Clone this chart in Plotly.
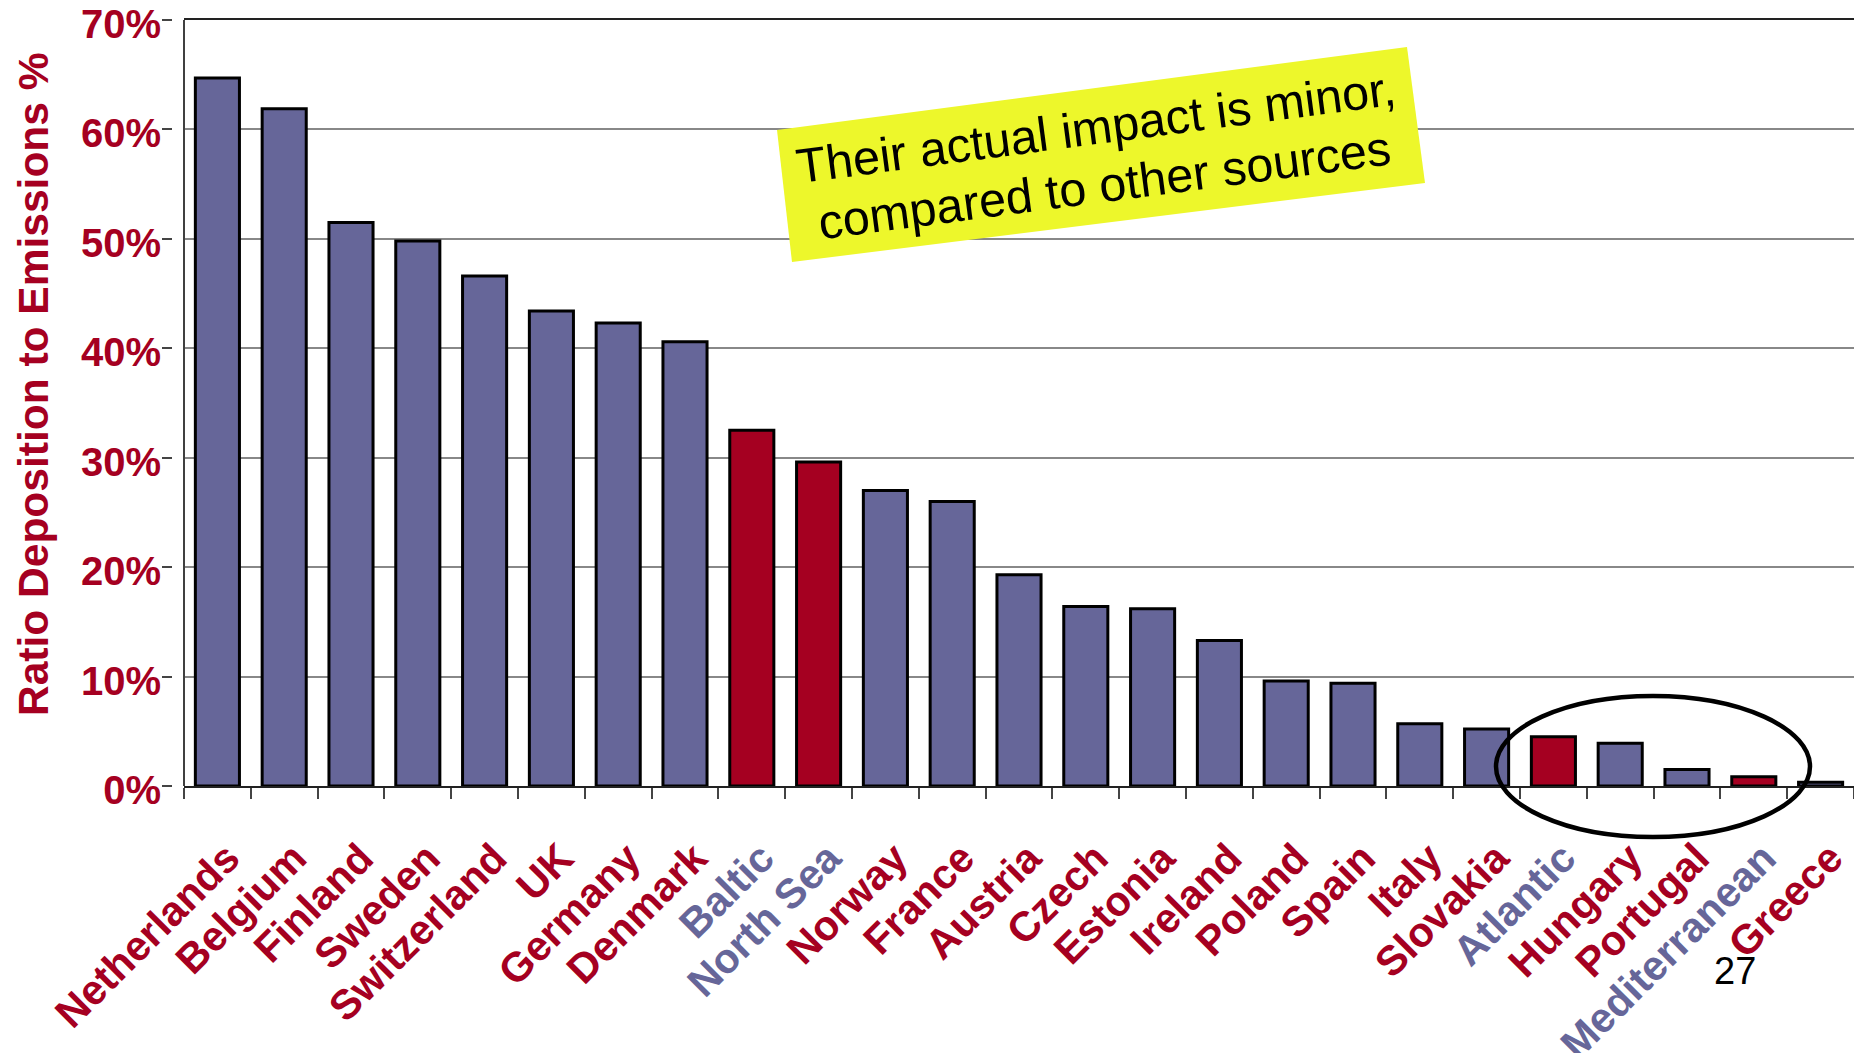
import plotly.graph_objects as go

# Deposition-to-emission ratio per country / sea area (percent)
categories = ["Netherlands", "Belgium", "Finland", "Sweden", "Switzerland", "UK",
              "Germany", "Denmark", "Baltic", "North Sea", "Norway", "France",
              "Austria", "Czech", "Estonia", "Ireland", "Poland", "Spain", "Italy",
              "Slovakia", "Atlantic", "Hungary", "Portugal", "Mediterranean", "Greece"]
ratio_pct = [64.7, 61.9, 51.5, 49.8, 46.6, 43.4, 42.3, 40.6, 32.5, 29.6, 27.0, 26.0,
             19.3, 16.4, 16.2, 13.3, 9.6, 9.4, 5.7, 5.2, 4.5, 3.9, 1.5, 0.85, 0.35]
sea_areas = ["Baltic", "North Sea", "Atlantic", "Mediterranean"]
y_ticks = [0, 10, 20, 30, 40, 50, 60, 70]
y_tick_text = [f"{v}%" for v in y_ticks]

BLUE = "#666699"
RED = "#A50021"
YELLOW = "#EDF72B"
FONT = "Arial, Liberation Sans, sans-serif"

W, H = 1854, 1053
PLOT_L, PLOT_R, PLOT_T, PLOT_B = 184, 1854, 20, 786


def px(x):
    return x / W


def py(y):
    return (PLOT_B - y) / (PLOT_B - PLOT_T)


bar_colors = [RED if c in sea_areas else BLUE for c in categories]
tick_text = [f'<span style="color:{BLUE}">{c}</span>' if c in sea_areas else c
             for c in categories]

fig = go.Figure(go.Bar(
    x=categories, y=ratio_pct,
    marker=dict(color=bar_colors, line=dict(color="black", width=3)),
    hoverinfo="skip",
))

fig.update_layout(
    width=W, height=H,
    margin=dict(l=0, r=0, t=PLOT_T, b=H - PLOT_B),
    paper_bgcolor="white", plot_bgcolor="white",
    showlegend=False, bargap=0.34,
    font=dict(family=FONT),
    xaxis=dict(
        type="category", domain=[px(PLOT_L), 1], automargin=False,
        tickmode="array", tickvals=categories, ticktext=tick_text,
        tickson="boundaries", ticks="outside", ticklen=11, tickwidth=1.5,
        tickcolor="#444", tickangle=-45,
        ticklabelstandoff=29, ticklabelshift=10, ticklabeloverflow="allow",
        tickfont=dict(size=41.5, color=RED, weight=700, family=FONT),
        showline=True, mirror=True, linecolor="#222", linewidth=2,
        showgrid=False, zeroline=False,
    ),
    yaxis=dict(
        anchor="free", position=px(172), automargin=False,
        range=[0, 70], tickmode="array", tickvals=y_ticks, ticktext=y_tick_text,
        ticks="outside", ticklen=10, tickwidth=1.5, tickcolor="#444",
        ticklabeloverflow="allow", ticklabelstandoff=-7, ticklabelshift=4,
        tickfont=dict(size=40, color=RED, weight=700, family=FONT),
        showline=False, zeroline=False,
        showgrid=True, gridcolor="#888888", gridwidth=1.5,
    ),
)

# Left frame line of the plot area
fig.add_shape(type="line", xref="paper", yref="paper",
              x0=px(PLOT_L), x1=px(PLOT_L), y0=0, y1=1,
              line=dict(color="#404040", width=2))

# Rotated yellow call-out box
corners = [(777, 130), (1407, 47), (1425, 183), (792, 262)]
path = "M " + " L ".join(f"{px(x):.5f},{py(y):.5f}" for x, y in corners) + " Z"
fig.add_shape(type="path", xref="paper", yref="paper", path=path,
              fillcolor=YELLOW, line=dict(width=0))

callout_lines = [("Their actual impact is minor,", 1096, 127),
                 ("compared to other sources", 1104, 185)]
for text, cx, cy in callout_lines:
    fig.add_annotation(text=text, xref="paper", yref="paper",
                       x=px(cx), y=py(cy), xanchor="center", yanchor="middle",
                       textangle=-7.5, showarrow=False,
                       font=dict(size=48.5, color="black", family=FONT))

# Ellipse around the smallest contributors
fig.add_shape(type="circle", xref="paper", yref="paper",
              x0=px(1496), x1=px(1810), y0=py(837), y1=py(696),
              line=dict(color="black", width=4.5))

# Y-axis title
fig.add_annotation(text="Ratio Deposition to Emissions %", xref="paper", yref="paper",
                   x=px(33), y=py(384), xanchor="center", yanchor="middle",
                   textangle=-90, showarrow=False,
                   font=dict(size=42.5, color=RED, weight=700, family=FONT))

# Slide number
fig.add_annotation(text="27", xref="paper", yref="paper",
                   x=px(1735), y=py(971), xanchor="center", yanchor="middle",
                   showarrow=False, font=dict(size=38, color="black", family=FONT))

fig.write_html("out.html")
